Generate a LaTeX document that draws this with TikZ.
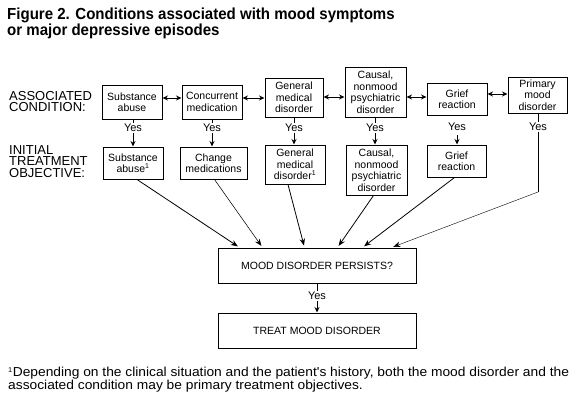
\documentclass[tikz,border=0pt]{standalone}
\usepackage{fontspec}
\setmainfont{Liberation Sans}
\newfontfamily\titlefont[FakeStretch=0.94]{Liberation Sans}
\newfontfamily\footfont[FakeStretch=1.06]{Liberation Sans}
\usetikzlibrary{arrows.meta,calc}
\begin{document}
\begin{tikzpicture}[x=1pt,y=-1pt,
  box/.style={draw,line width=1pt,align=center,inner sep=1pt,font=\fontsize{10.5}{11.5}\selectfont},
  yes/.style={inner sep=1pt,font=\fontsize{11}{11}\selectfont},
  lbl/.style={align=left,inner sep=0pt,anchor=north west,font=\fontsize{13}{11.5}\selectfont},
  con/.style={line width=1pt},
  arr/.style={line width=1pt,-{Stealth[length=5.5pt,width=5pt]}},
  darr/.style={line width=1pt,{Stealth[length=5.5pt,width=5pt]}-{Stealth[length=5.5pt,width=5pt]}},
  diag/.style={line width=0.8pt,-{Stealth[length=7pt,width=5.5pt]},shorten >=2pt}]
\useasboundingbox[fill=white] (0,0) rectangle (575,400);

\node[anchor=north west,align=left,inner sep=0pt,font=\titlefont\bfseries\fontsize{16}{16}\selectfont] (title) at (7,8)
  {Figure 2. Conditions associated with mood symptoms\\or major depressive episodes};

\node[lbl] (assoc) at (9,91) {ASSOCIATED\\CONDITION:};
\node[lbl] (init) at (9,145) {INITIAL\\TREATMENT\\OBJECTIVE:};

% top row
\node[box,minimum width=60pt,minimum height=34pt] (t1) at (132,102) {Substance\\abuse};
\node[box,minimum width=60pt,minimum height=34pt] (t2) at (212,102) {Concurrent\\medication};
\node[box,minimum width=58pt,minimum height=39pt] (t3) at (294,97.5) {General\\medical\\disorder};
\node[box,minimum width=61pt,minimum height=50pt] (t4) at (375.5,92) {Causal,\\nonmood\\psychiatric\\disorder};
\node[box,minimum width=60pt,minimum height=32pt] (t5) at (457,99) {Grief\\reaction};
\node[box,minimum width=59pt,minimum height=36pt] (t6) at (537.5,95) {Primary\\mood\\disorder};

\draw[darr] (t1.east |- 0,98) -- (t2.west |- 0,98);
\draw[darr] (t2.east |- 0,98) -- (t3.west |- 0,98);
\draw[darr] (t3.east |- 0,97) -- (t4.west |- 0,97);
\draw[darr] (t4.east |- 0,97) -- (t5.west |- 0,97);
\draw[darr] (t5.east |- 0,94) -- (t6.west |- 0,94);

% yes labels
\node[yes] (y1) at (133,128) {Yes};
\node[yes] (y2) at (212,128) {Yes};
\node[yes] (y3) at (294,128) {Yes};
\node[yes] (y4) at (375,128) {Yes};
\node[yes] (y5) at (457,127) {Yes};
\node[yes] (y6) at (538,127) {Yes};

% second row
\node[box,minimum width=60pt,minimum height=32pt] (b1) at (133,163) {Substance\\abuse\textsuperscript{\scriptsize 1}};
\node[box,minimum width=67pt,minimum height=32pt] (b2) at (213.5,163) {Change\\medications};
\node[box,minimum width=60pt,minimum height=39pt] (b3) at (295,164.5) {General\\medical\\disorder\textsuperscript{\scriptsize 1}};
\node[box,minimum width=61pt,minimum height=50pt] (b4) at (376.5,170) {Causal,\\nonmood\\psychiatric\\disorder};
\node[box,minimum width=59pt,minimum height=32pt] (b5) at (456.5,161) {Grief\\reaction};

\draw[con] (t1.south -| y1) -- (y1.north);
\draw[con] (t2.south -| y2) -- (y2.north);
\draw[con] (t3.south -| y3) -- (y3.north);
\draw[con] (t4.south -| y4) -- (y4.north);
\draw[con] (t6.south -| y6) -- (y6.north);

\draw[arr] (y1.south) -- (y1.south |- b1.north);
\draw[arr] (y2.south) -- (y2.south |- b2.north);
\draw[arr] (y3.south) -- (y3.south |- b3.north);
\draw[arr] (y4.south) -- (y4.south |- b4.north);
\draw[arr] (y5.south) ++(0,3) -- (y5.south |- b5.north);

% mood boxes
\node[box,minimum width=198pt,minimum height=35pt] (mood) at (317,265.5) {MOOD DISORDER PERSISTS?};
\node[box,minimum width=198pt,minimum height=35pt] (treat) at (317,330.5) {TREAT MOOD DISORDER};
\node[yes] (y7) at (317,296) {Yes};
\draw[line width=0.5pt] (mood.south -| y7) -- (y7.north);
\draw[arr] (y7.south) -- (y7.south |- treat.north);

\coordinate (m1) at ($(mood.north west)+(22,0)$);
\coordinate (m2) at ($(mood.north west)+(45,0)$);
\coordinate (m3) at ($(mood.north west)+(87,0)$);
\coordinate (m4) at ($(mood.north west)+(120,0)$);
\coordinate (m5) at ($(mood.north west)+(145,0)$);
\coordinate (m6) at ($(mood.north west)+(174,0)$);
\coordinate (c6) at (538,192);

\draw[diag] (b1.south) ++(4,0) -- (m1);
\draw[diag,line width=0.55pt] (b2.south) ++(1,0) -- (m2);
\draw[diag] (b3.south) ++(-7,0) -- (m3);
\draw[diag] (b4.south) ++(-3,0) -- (m4);
\draw[diag] (b5.south) ++(-2,0) -- (m5);
\draw[line width=0.5pt] (y6.south) -- (c6);
\draw[diag,line width=0.4pt] (c6) -- (m6);

\node[anchor=north west,align=left,inner sep=0pt,font=\footfont\fontsize{13}{13}\selectfont] (foot) at (8,367)
  {\textsuperscript{\scriptsize 1}Depending on the clinical situation and the patient's history, both the mood disorder and the\\associated condition may be primary treatment objectives.};
\end{tikzpicture}
\end{document}
